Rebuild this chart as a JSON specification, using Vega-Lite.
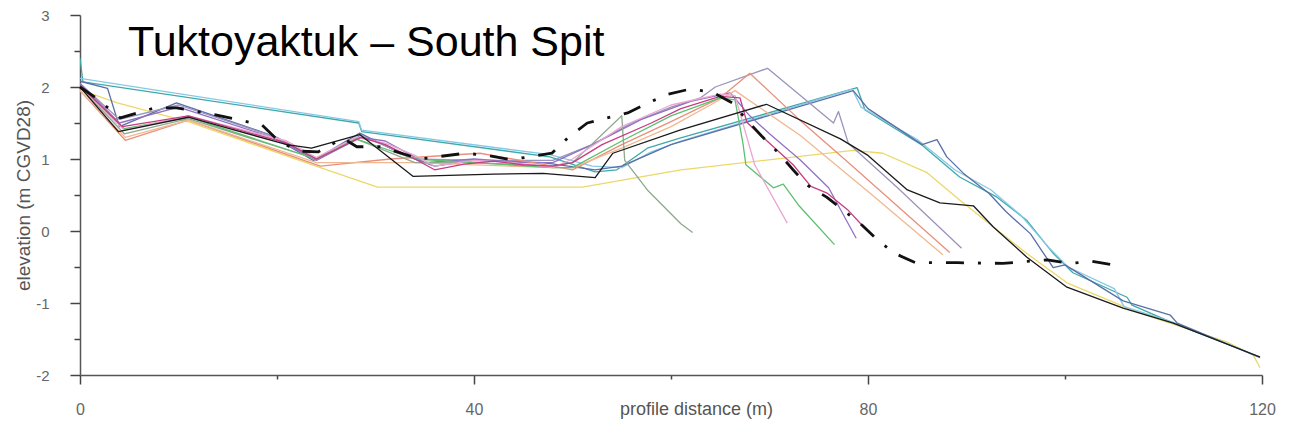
{
  "$schema": "https://vega.github.io/schema/vega-lite/v6.json",
  "width": 1182,
  "height": 360,
  "autosize": {"type": "none"},
  "padding": {"left": 80, "top": 15, "right": 33, "bottom": 65},
  "background": "white",
  "config": {
    "view": {"stroke": null},
    "font": "Liberation Sans"
  },
  "title": {
    "text": "Tuktoyaktuk – South Spit",
    "anchor": "start",
    "frame": "group",
    "orient": "top",
    "offset": 0,
    "dx": 48,
    "dy": 91,
    "baseline": "alphabetic",
    "fontSize": 43,
    "fontWeight": "normal",
    "font": "Liberation Sans",
    "color": "#000000"
  },
  "datasets": {
    "profiles": [
      {"s": "yellow", "x": 0, "y": 1.96}, {"s": "yellow", "x": 3.8, "y": 1.78}, {"s": "yellow", "x": 11.2, "y": 1.51}, {"s": "yellow", "x": 24.4, "y": 0.88}, {"s": "yellow", "x": 30.2, "y": 0.61}, {"s": "yellow", "x": 51, "y": 0.61}, {"s": "yellow", "x": 61, "y": 0.85}, {"s": "yellow", "x": 78.5, "y": 1.12}, {"s": "yellow", "x": 81.5, "y": 1.08}, {"s": "yellow", "x": 86, "y": 0.81}, {"s": "yellow", "x": 89.3, "y": 0.43}, {"s": "yellow", "x": 92.7, "y": 0.06}, {"s": "yellow", "x": 96, "y": -0.3}, {"s": "yellow", "x": 100.2, "y": -0.72}, {"s": "yellow", "x": 107.6, "y": -1.14}, {"s": "yellow", "x": 116.4, "y": -1.54}, {"s": "yellow", "x": 119.1, "y": -1.72}, {"s": "yellow", "x": 119.8, "y": -1.9},

      {"s": "teal", "x": 0, "y": 2.4}, {"s": "teal", "x": 0.3, "y": 2.07}, {"s": "teal", "x": 28.3, "y": 1.5}, {"s": "teal", "x": 28.6, "y": 1.38}, {"s": "teal", "x": 47.7, "y": 1.03}, {"s": "teal", "x": 52.3, "y": 0.82}, {"s": "teal", "x": 54.5, "y": 0.85}, {"s": "teal", "x": 57.6, "y": 1.15}, {"s": "teal", "x": 60.9, "y": 1.29}, {"s": "teal", "x": 78.9, "y": 1.99}, {"s": "teal", "x": 79.7, "y": 1.68}, {"s": "teal", "x": 85.5, "y": 1.19}, {"s": "teal", "x": 89.3, "y": 0.75}, {"s": "teal", "x": 93.1, "y": 0.47}, {"s": "teal", "x": 96.1, "y": 0.15}, {"s": "teal", "x": 98.8, "y": -0.31}, {"s": "teal", "x": 100.8, "y": -0.58}, {"s": "teal", "x": 106.3, "y": -0.92}, {"s": "teal", "x": 106.8, "y": -1.03}, {"s": "teal", "x": 111, "y": -1.28}, {"s": "teal", "x": 119.8, "y": -1.75},

      {"s": "lightblue", "x": 0, "y": 2.12}, {"s": "lightblue", "x": 28.3, "y": 1.52}, {"s": "lightblue", "x": 28.6, "y": 1.4}, {"s": "lightblue", "x": 47.7, "y": 1.06}, {"s": "lightblue", "x": 52, "y": 0.9}, {"s": "lightblue", "x": 55, "y": 0.88}, {"s": "lightblue", "x": 58, "y": 1.1}, {"s": "lightblue", "x": 61, "y": 1.25}, {"s": "lightblue", "x": 78.4, "y": 1.97}, {"s": "lightblue", "x": 79.3, "y": 1.72}, {"s": "lightblue", "x": 85, "y": 1.27}, {"s": "lightblue", "x": 88.8, "y": 0.85}, {"s": "lightblue", "x": 92.5, "y": 0.57}, {"s": "lightblue", "x": 95.5, "y": 0.22}, {"s": "lightblue", "x": 98.3, "y": -0.22}, {"s": "lightblue", "x": 100.3, "y": -0.5}, {"s": "lightblue", "x": 105, "y": -0.8}, {"s": "lightblue", "x": 106, "y": -1.05}, {"s": "lightblue", "x": 111, "y": -1.27}, {"s": "lightblue", "x": 119.8, "y": -1.75},

      {"s": "steelblue", "x": 0, "y": 2.08}, {"s": "steelblue", "x": 2.8, "y": 1.98}, {"s": "steelblue", "x": 4, "y": 1.45}, {"s": "steelblue", "x": 9.8, "y": 1.78}, {"s": "steelblue", "x": 19, "y": 1.35}, {"s": "steelblue", "x": 23.7, "y": 0.98}, {"s": "steelblue", "x": 28.4, "y": 1.36}, {"s": "steelblue", "x": 33, "y": 1.05}, {"s": "steelblue", "x": 36, "y": 0.9}, {"s": "steelblue", "x": 40, "y": 0.98}, {"s": "steelblue", "x": 47, "y": 0.95}, {"s": "steelblue", "x": 52.3, "y": 0.85}, {"s": "steelblue", "x": 55, "y": 0.9}, {"s": "steelblue", "x": 60, "y": 1.2}, {"s": "steelblue", "x": 78.5, "y": 1.95}, {"s": "steelblue", "x": 80, "y": 1.7}, {"s": "steelblue", "x": 85.5, "y": 1.2}, {"s": "steelblue", "x": 87, "y": 1.27}, {"s": "steelblue", "x": 88, "y": 1.03}, {"s": "steelblue", "x": 89.7, "y": 0.8}, {"s": "steelblue", "x": 92.3, "y": 0.52}, {"s": "steelblue", "x": 94, "y": 0.27}, {"s": "steelblue", "x": 96.5, "y": -0.04}, {"s": "steelblue", "x": 98.8, "y": -0.51}, {"s": "steelblue", "x": 100, "y": -0.47}, {"s": "steelblue", "x": 105.9, "y": -0.97}, {"s": "steelblue", "x": 110.7, "y": -1.17}, {"s": "steelblue", "x": 111.4, "y": -1.28}, {"s": "steelblue", "x": 119.8, "y": -1.76},

      {"s": "lavender", "x": 0, "y": 2.05}, {"s": "lavender", "x": 4, "y": 1.55}, {"s": "lavender", "x": 10, "y": 1.75}, {"s": "lavender", "x": 20, "y": 1.3}, {"s": "lavender", "x": 24, "y": 1.0}, {"s": "lavender", "x": 28.5, "y": 1.33}, {"s": "lavender", "x": 34, "y": 1.0}, {"s": "lavender", "x": 40, "y": 0.98}, {"s": "lavender", "x": 48, "y": 0.98}, {"s": "lavender", "x": 52, "y": 1.2}, {"s": "lavender", "x": 56, "y": 1.5}, {"s": "lavender", "x": 60, "y": 1.72}, {"s": "lavender", "x": 63, "y": 1.85}, {"s": "lavender", "x": 64.5, "y": 2.0}, {"s": "lavender", "x": 69.8, "y": 2.26}, {"s": "lavender", "x": 76.5, "y": 1.5}, {"s": "lavender", "x": 77, "y": 1.66}, {"s": "lavender", "x": 78, "y": 1.22}, {"s": "lavender", "x": 83, "y": 0.6}, {"s": "lavender", "x": 89.5, "y": -0.24},

      {"s": "purple", "x": 0, "y": 2.05}, {"s": "purple", "x": 4, "y": 1.5}, {"s": "purple", "x": 10, "y": 1.72}, {"s": "purple", "x": 20, "y": 1.28}, {"s": "purple", "x": 24, "y": 0.98}, {"s": "purple", "x": 28.5, "y": 1.3}, {"s": "purple", "x": 31, "y": 1.25}, {"s": "purple", "x": 35, "y": 0.95}, {"s": "purple", "x": 40, "y": 1.0}, {"s": "purple", "x": 45, "y": 0.95}, {"s": "purple", "x": 48, "y": 0.95}, {"s": "purple", "x": 52, "y": 1.2}, {"s": "purple", "x": 57, "y": 1.55}, {"s": "purple", "x": 62, "y": 1.8}, {"s": "purple", "x": 66, "y": 1.92}, {"s": "purple", "x": 68, "y": 1.6}, {"s": "purple", "x": 70, "y": 1.35}, {"s": "purple", "x": 73.1, "y": 0.99}, {"s": "purple", "x": 76, "y": 0.6}, {"s": "purple", "x": 78.8, "y": -0.1},

      {"s": "salmon", "x": 0, "y": 1.95}, {"s": "salmon", "x": 4.6, "y": 1.26}, {"s": "salmon", "x": 11, "y": 1.54}, {"s": "salmon", "x": 24.4, "y": 0.9}, {"s": "salmon", "x": 31.5, "y": 1.0}, {"s": "salmon", "x": 40.6, "y": 1.08}, {"s": "salmon", "x": 48, "y": 0.9}, {"s": "salmon", "x": 50, "y": 0.85}, {"s": "salmon", "x": 55, "y": 1.2}, {"s": "salmon", "x": 60, "y": 1.52}, {"s": "salmon", "x": 65, "y": 1.85}, {"s": "salmon", "x": 68, "y": 2.19}, {"s": "salmon", "x": 73, "y": 1.55}, {"s": "salmon", "x": 78, "y": 0.95}, {"s": "salmon", "x": 88.3, "y": -0.3},

      {"s": "peach", "x": 0, "y": 1.95}, {"s": "peach", "x": 4.6, "y": 1.3}, {"s": "peach", "x": 11, "y": 1.54}, {"s": "peach", "x": 24, "y": 0.95}, {"s": "peach", "x": 34, "y": 0.95}, {"s": "peach", "x": 48, "y": 0.88}, {"s": "peach", "x": 50, "y": 0.88}, {"s": "peach", "x": 55, "y": 1.15}, {"s": "peach", "x": 60, "y": 1.45}, {"s": "peach", "x": 64, "y": 1.75}, {"s": "peach", "x": 66.5, "y": 1.95}, {"s": "peach", "x": 73.1, "y": 1.33}, {"s": "peach", "x": 80, "y": 0.55}, {"s": "peach", "x": 87.6, "y": -0.33},

      {"s": "olive", "x": 0, "y": 2.0}, {"s": "olive", "x": 4.5, "y": 1.35}, {"s": "olive", "x": 11, "y": 1.56}, {"s": "olive", "x": 24, "y": 1.0}, {"s": "olive", "x": 28, "y": 1.28}, {"s": "olive", "x": 34, "y": 0.95}, {"s": "olive", "x": 40, "y": 0.95}, {"s": "olive", "x": 48, "y": 0.9}, {"s": "olive", "x": 50, "y": 0.95}, {"s": "olive", "x": 55, "y": 1.6}, {"s": "olive", "x": 55.3, "y": 0.98}, {"s": "olive", "x": 57.6, "y": 0.57}, {"s": "olive", "x": 61, "y": 0.1}, {"s": "olive", "x": 62.2, "y": -0.02},

      {"s": "green", "x": 0, "y": 2.0}, {"s": "green", "x": 4.5, "y": 1.42}, {"s": "green", "x": 11, "y": 1.58}, {"s": "green", "x": 24, "y": 1.0}, {"s": "green", "x": 28, "y": 1.28}, {"s": "green", "x": 34, "y": 1.0}, {"s": "green", "x": 40, "y": 0.95}, {"s": "green", "x": 48, "y": 0.88}, {"s": "green", "x": 50, "y": 0.88}, {"s": "green", "x": 55, "y": 1.25}, {"s": "green", "x": 60, "y": 1.6}, {"s": "green", "x": 65, "y": 1.85}, {"s": "green", "x": 66.5, "y": 1.82}, {"s": "green", "x": 67.3, "y": 1.22}, {"s": "green", "x": 67.6, "y": 0.92}, {"s": "green", "x": 70.4, "y": 0.6}, {"s": "green", "x": 71.4, "y": 0.65}, {"s": "green", "x": 73, "y": 0.35}, {"s": "green", "x": 76.6, "y": -0.19},

      {"s": "pink", "x": 0, "y": 2.0}, {"s": "pink", "x": 4.5, "y": 1.4}, {"s": "pink", "x": 11, "y": 1.6}, {"s": "pink", "x": 21, "y": 1.25}, {"s": "pink", "x": 24, "y": 1.02}, {"s": "pink", "x": 28, "y": 1.3}, {"s": "pink", "x": 31, "y": 1.22}, {"s": "pink", "x": 34, "y": 1.05}, {"s": "pink", "x": 36, "y": 0.9}, {"s": "pink", "x": 40, "y": 0.98}, {"s": "pink", "x": 44, "y": 0.95}, {"s": "pink", "x": 48, "y": 0.88}, {"s": "pink", "x": 50, "y": 1.0}, {"s": "pink", "x": 55, "y": 1.45}, {"s": "pink", "x": 60, "y": 1.75}, {"s": "pink", "x": 65, "y": 1.9}, {"s": "pink", "x": 66.5, "y": 1.88}, {"s": "pink", "x": 68.5, "y": 0.92}, {"s": "pink", "x": 71.8, "y": 0.11},

      {"s": "magenta", "x": 0, "y": 2.02}, {"s": "magenta", "x": 4.3, "y": 1.45}, {"s": "magenta", "x": 11, "y": 1.6}, {"s": "magenta", "x": 21, "y": 1.22}, {"s": "magenta", "x": 24, "y": 1.0}, {"s": "magenta", "x": 28.5, "y": 1.3}, {"s": "magenta", "x": 31, "y": 1.2}, {"s": "magenta", "x": 34, "y": 1.0}, {"s": "magenta", "x": 36, "y": 0.85}, {"s": "magenta", "x": 39, "y": 0.93}, {"s": "magenta", "x": 42, "y": 0.97}, {"s": "magenta", "x": 45, "y": 0.92}, {"s": "magenta", "x": 48, "y": 0.9}, {"s": "magenta", "x": 50, "y": 0.95}, {"s": "magenta", "x": 53, "y": 1.2}, {"s": "magenta", "x": 58, "y": 1.5}, {"s": "magenta", "x": 61, "y": 1.7}, {"s": "magenta", "x": 65, "y": 1.87}, {"s": "magenta", "x": 67, "y": 1.85}, {"s": "magenta", "x": 67.7, "y": 1.51}, {"s": "magenta", "x": 69.1, "y": 1.33}, {"s": "magenta", "x": 72.4, "y": 0.92}, {"s": "magenta", "x": 74.2, "y": 0.62}, {"s": "magenta", "x": 75.8, "y": 0.53}, {"s": "magenta", "x": 77.9, "y": 0.3}, {"s": "magenta", "x": 79.4, "y": 0.08},

      {"s": "black", "x": 0, "y": 2.0}, {"s": "black", "x": 3.9, "y": 1.38}, {"s": "black", "x": 11, "y": 1.58}, {"s": "black", "x": 21, "y": 1.2}, {"s": "black", "x": 23.5, "y": 1.15}, {"s": "black", "x": 28.4, "y": 1.34}, {"s": "black", "x": 33.8, "y": 0.76}, {"s": "black", "x": 42, "y": 0.79}, {"s": "black", "x": 47, "y": 0.8}, {"s": "black", "x": 52.3, "y": 0.74}, {"s": "black", "x": 54.1, "y": 1.08}, {"s": "black", "x": 60.9, "y": 1.4}, {"s": "black", "x": 69.7, "y": 1.76}, {"s": "black", "x": 77.2, "y": 1.28}, {"s": "black", "x": 80, "y": 1.05}, {"s": "black", "x": 84, "y": 0.57}, {"s": "black", "x": 87.3, "y": 0.39}, {"s": "black", "x": 90.7, "y": 0.35}, {"s": "black", "x": 92.7, "y": 0.06}, {"s": "black", "x": 96.1, "y": -0.36}, {"s": "black", "x": 100.2, "y": -0.78}, {"s": "black", "x": 105.9, "y": -1.07}, {"s": "black", "x": 111, "y": -1.28}, {"s": "black", "x": 119.8, "y": -1.75}
    ],
    "dashed": [
      {"x": 0, "y": 2.0}, {"x": 1.6, "y": 1.85}, {"x": 4.1, "y": 1.57}, {"x": 7.6, "y": 1.71}, {"x": 9.8, "y": 1.71}, {"x": 13.9, "y": 1.61}, {"x": 18.5, "y": 1.47}, {"x": 20.1, "y": 1.26}, {"x": 22.1, "y": 1.11}, {"x": 24.2, "y": 1.1}, {"x": 26.7, "y": 1.29}, {"x": 28.1, "y": 1.17}, {"x": 30.5, "y": 1.17}, {"x": 34.5, "y": 1.0}, {"x": 39.1, "y": 1.08}, {"x": 41.4, "y": 1.05}, {"x": 43.7, "y": 0.99}, {"x": 47.9, "y": 1.08}, {"x": 49.5, "y": 1.29}, {"x": 51.5, "y": 1.5}, {"x": 53.5, "y": 1.57}, {"x": 55.6, "y": 1.64}, {"x": 57.7, "y": 1.78}, {"x": 59.7, "y": 1.9}, {"x": 61.9, "y": 1.97}, {"x": 64.2, "y": 1.93}, {"x": 66.2, "y": 1.78}, {"x": 67.7, "y": 1.54}, {"x": 69.2, "y": 1.32}, {"x": 70.8, "y": 1.1}, {"x": 72.4, "y": 0.85}, {"x": 73.8, "y": 0.64}, {"x": 75.8, "y": 0.47}, {"x": 77.5, "y": 0.29}, {"x": 79.4, "y": 0.08}, {"x": 81.0, "y": -0.13}, {"x": 82.7, "y": -0.31}, {"x": 84.8, "y": -0.44}, {"x": 89.1, "y": -0.44}, {"x": 93.7, "y": -0.45}, {"x": 98.2, "y": -0.4}, {"x": 100.5, "y": -0.45}, {"x": 102.7, "y": -0.42}, {"x": 104.9, "y": -0.47}
    ]
  },
  "encoding": {
    "x": {
      "field": "x",
      "type": "quantitative",
      "scale": {"domain": [0, 120], "nice": false, "zero": false},
      "axis": {
        "title": "profile distance (m)",
        "values": [0, 20, 40, 60, 80, 100, 120],
        "labelExpr": "datum.value % 40 === 0 ? '' + datum.value : ''",
        "grid": false,
        "labelFlush": false,
        "domainColor": "#555555",
        "domainWidth": 1.5,
        "tickColor": "#444444",
        "tickWidth": 1.5,
        "tickSize": {"condition": {"test": "datum.value % 40 === 0", "value": 9}, "value": 4},
        "labelColor": "#666666",
        "labelFontSize": 16,
        "labelPadding": 17,
        "titleFontSize": 18,
        "titleFontWeight": "normal",
        "titleColor": "#555555",
        "titlePadding": -17,
        "titleX": 616,
        "titleAlign": "center"
      }
    },
    "y": {
      "field": "y",
      "type": "quantitative",
      "scale": {"domain": [-2, 3], "nice": false, "zero": false},
      "axis": {
        "title": "elevation (m CGVD28)",
        "values": [-2, -1.5, -1, -0.5, 0, 0.5, 1, 1.5, 2, 2.5, 3],
        "labelExpr": "datum.value % 1 === 0 ? '' + datum.value : ''",
        "grid": false,
        "domainColor": "#555555",
        "domainWidth": 1.5,
        "tickColor": "#444444",
        "tickWidth": 1.5,
        "tickSize": {"condition": {"test": "datum.value % 1 === 0", "value": 10}, "value": 6},
        "labelColor": "#666666",
        "labelFontSize": 15,
        "labelPadding": 21,
        "titleFontSize": 19,
        "titleFontWeight": "normal",
        "titleColor": "#555555",
        "titlePadding": 2
      }
    }
  },
  "layer": [
    {
      "data": {"name": "profiles"},
      "mark": {"type": "line", "strokeWidth": 1.3, "strokeJoin": "round", "clip": true},
      "encoding": {
        "color": {
          "field": "s",
          "type": "nominal",
          "legend": null,
          "scale": {
            "domain": ["yellow", "teal", "lightblue", "steelblue", "lavender", "purple", "salmon", "peach", "olive", "green", "pink", "magenta", "black"],
            "range": ["#ecd868", "#3fa9a9", "#86c8e6", "#5a6ea8", "#9a94bc", "#9072c4", "#e8907c", "#f0b890", "#8fa88f", "#5cc070", "#eba6d2", "#c83c82", "#1a1a1a"]
          }
        }
      }
    },
    {
      "data": {"name": "dashed"},
      "mark": {"type": "line", "color": "#111111", "strokeWidth": 2.8, "strokeDash": [18, 14, 3, 14], "strokeJoin": "round"},
      "encoding": {}
    }
  ]
}
